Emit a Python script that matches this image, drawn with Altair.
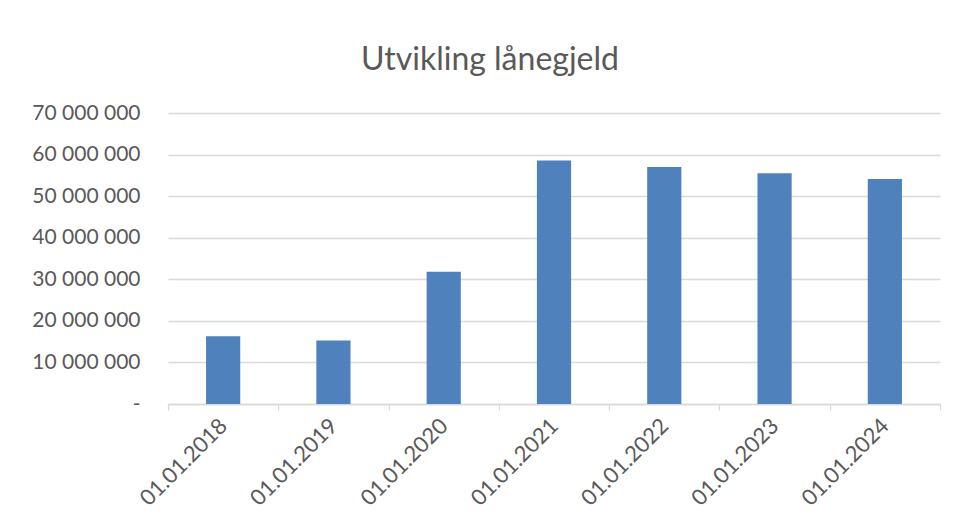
import altair as alt
import pandas as pd

categories = ["01.01.2018", "01.01.2019", "01.01.2020", "01.01.2021",
              "01.01.2022", "01.01.2023", "01.01.2024"]
values = [16300000, 15300000, 31800000, 58600000, 57000000, 55500000, 54100000]
y_ticks = [0, 10000000, 20000000, 30000000, 40000000, 50000000, 60000000, 70000000]

df = pd.DataFrame({"dato": categories, "gjeld": values})

TXT = "#595959"
GRID = "#D9D9D9"
FONT = "Lato"

nb = "\u00a0"
label_expr = ("datum.value == 0 ? '-" + nb * 3 + "' : "
              "replace(format(datum.value, ','), regexp(',', 'g'), ' ')")

chart = alt.Chart(df).mark_bar(width={"band": 0.31}, color="#4F81BD").encode(
    x=alt.X("dato:N", sort=categories, title=None,
            scale=alt.Scale(paddingInner=0, paddingOuter=0),
            axis=alt.Axis(labelAngle=-45, labelAlign="right", labelBaseline="middle",
                          labelPadding=12, labelFontSize=22, labelFont=FONT,
                          labelColor=TXT, tickBand="extent", tickSize=6,
                          tickColor=GRID, domainColor=GRID, domainWidth=1.3,
                          tickWidth=1.3, grid=False, labelOverlap=False)),
    y=alt.Y("gjeld:Q", title=None,
            scale=alt.Scale(domain=[0, 70000000], nice=False),
            axis=alt.Axis(values=y_ticks, labelExpr=label_expr, labelFontSize=21,
                          labelFont=FONT, labelColor=TXT, domain=False, ticks=False,
                          labelPadding=28, gridColor=GRID, gridWidth=1.3)),
).properties(
    width=772,
    height=291,
    title=alt.TitleParams("Utvikling lånegjeld", fontSize=32, font=FONT,
                          fontWeight="normal", color=TXT, anchor="middle",
                          frame="group", dx=-64, baseline="alphabetic", offset=0),
    autosize=alt.AutoSizeParams(type="none"),
    padding={"left": 160, "top": 105, "right": 10, "bottom": 124},
).configure(background="white").configure_view(stroke="transparent", strokeWidth=0)

chart.save("out.html", embed_options={"renderer": "svg", "actions": False})
